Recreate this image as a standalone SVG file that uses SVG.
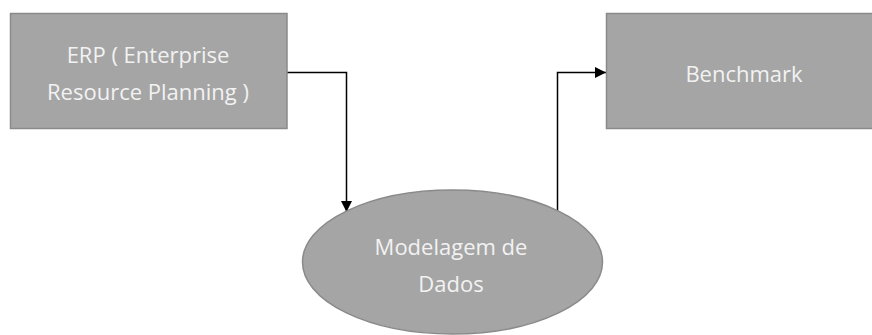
<svg xmlns="http://www.w3.org/2000/svg" width="872" height="335" viewBox="0 0 872 335">
  <style>
    .shape { fill: #a5a5a5; stroke: #8a8a8a; stroke-width: 1.5; }
    .label { font-family: "Open Sans", "Liberation Sans", sans-serif; font-size: 22px; fill: #f2f2f2; text-anchor: middle; }
    .wire { fill: none; stroke: #000; stroke-width: 1.5; }
  </style>
  <defs>
    <marker id="arrow" viewBox="0 0 10 10" refX="10" refY="5" markerWidth="11" markerHeight="11" markerUnits="userSpaceOnUse" orient="auto">
      <path d="M0,0 L10,5 L0,10 z" fill="#000"/>
    </marker>
  </defs>
  <rect width="872" height="335" fill="#fff"/>

  <g id="connectors">
    <path class="wire" d="M287,72.5 H346.5 V212" marker-end="url(#arrow)"/>
    <path class="wire" d="M557.5,213 V72.5 H606" marker-end="url(#arrow)"/>
  </g>

  <g id="erp">
    <rect class="shape" x="10.5" y="13.5" width="276.5" height="115"/>
    <text class="label" x="148" y="63">ERP ( Enterprise</text>
    <text class="label" x="148" y="100">Resource Planning )</text>
  </g>

  <g id="benchmark">
    <rect class="shape" x="606.5" y="13.5" width="276" height="115"/>
    <text class="label" x="744" y="82">Benchmark</text>
  </g>

  <g id="modelagem">
    <ellipse class="shape" cx="452.5" cy="262" rx="150" ry="72"/>
    <text class="label" x="451" y="255">Modelagem de</text>
    <text class="label" x="451" y="292">Dados</text>
  </g>
</svg>
